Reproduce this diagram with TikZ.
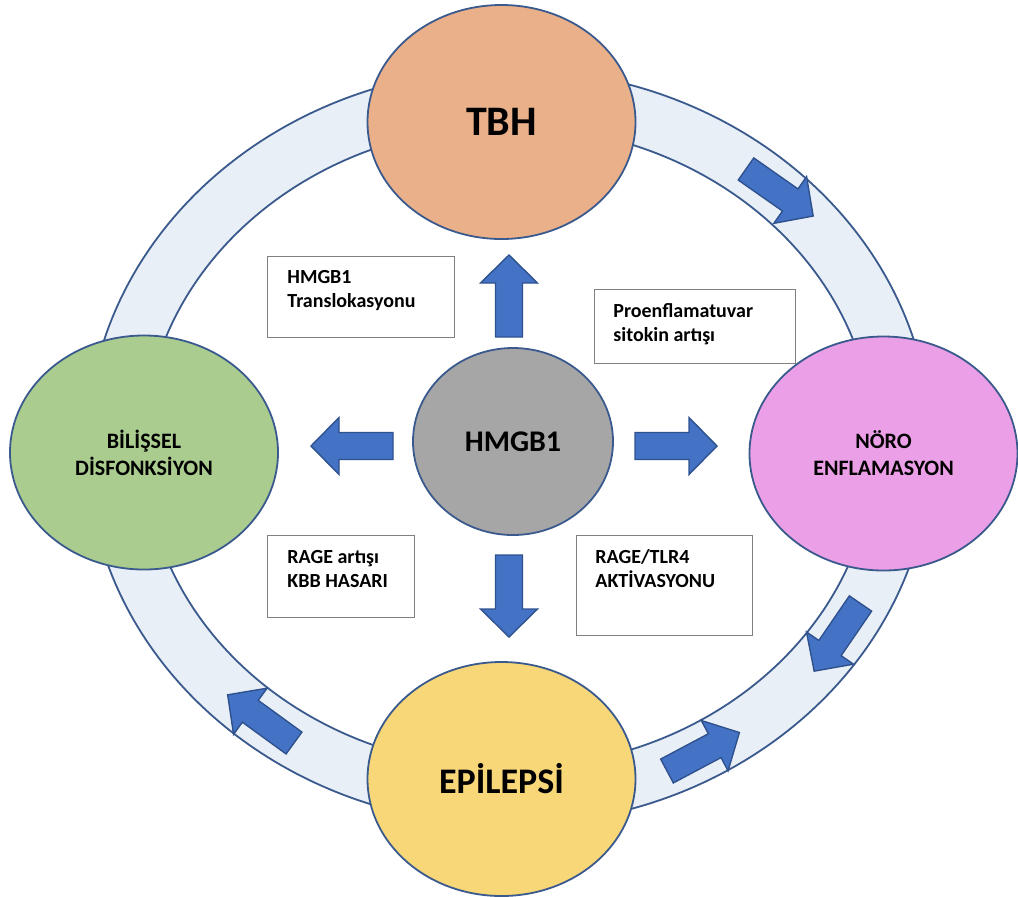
\documentclass[tikz,border=0pt]{standalone}
\usepackage{fontspec}
\setmainfont{Carlito}
\usetikzlibrary{shapes.geometric}
\definecolor{ringfill}{HTML}{E9EFF7}
\definecolor{ringline}{HTML}{3A5A8E}
\definecolor{tbhc}{HTML}{EAB089}
\definecolor{bilc}{HTML}{AACC8F}
\definecolor{noroc}{HTML}{EB9FE6}
\definecolor{epic}{HTML}{F8D779}
\definecolor{hmc}{HTML}{A6A6A6}
\definecolor{arrc}{HTML}{4472C4}
\definecolor{arrline}{HTML}{2F528F}
\definecolor{boxline}{HTML}{808080}
\newcommand\fstrut{\rule{0pt}{8pt}}
\begin{document}
\begin{tikzpicture}[x=0.5pt,y=-0.5pt,
  ringst/.style={fill=ringfill, draw=ringline, line width=0.9pt, even odd rule},
  disc/.style={ellipse, draw=ringline, line width=0.9pt, minimum width=134pt, minimum height=117pt, inner sep=0pt, align=center},
  hugetext/.style={font=\bfseries\fontsize{21}{25}\selectfont},
  midtext/.style={font=\bfseries\fontsize{18}{22}\selectfont},
  smalltext/.style={font=\bfseries\fontsize{11}{13.5}\selectfont},
  infobox/.style={rectangle, draw=boxline, line width=0.7pt, fill=white, anchor=north west, inner sep=0pt},
  boxtext/.style={anchor=north west, inner sep=0pt, align=left, font=\bfseries\fontsize{10}{12}\selectfont},
  blockarrow/.pic={\draw[fill=arrc, draw=arrline, line width=0.7pt, line join=miter]
     (0,-13.5) -- (54,-13.5) -- (54,-28.5) -- (82,0) -- (54,28.5) -- (54,13.5) -- (0,13.5) -- cycle;}
]
\fill[white] (0,0) rectangle (1018,896);
\useasboundingbox (0,0) rectangle (1018,896);

% ring
\path[ringst] (509,447) ellipse [x radius=422, y radius=378]
              (509,447) ellipse [x radius=365, y radius=321];

% ring arrows
\pic[rotate=-35] at (746,169) {blockarrow};
\pic[rotate=-124.4] at (860.5,603.5) {blockarrow};
\pic[rotate=28] at (667,771) {blockarrow};
\pic[rotate=144] at (294,743) {blockarrow};

% outer nodes
\node[disc, fill=tbhc, hugetext] (tbh) at (501.5,122) {TBH};
\node[disc, fill=bilc, smalltext] (bil) at (144,452.5) {BİLİŞSEL\\DİSFONKSİYON};
\node[disc, fill=noroc, smalltext] (noro) at (883.5,453.5) {NÖRO\\ENFLAMASYON};
\node[disc, fill=epic, midtext] (epi) at (501.5,779) {EPİLEPSİ};

% centre
\node[ellipse, draw=ringline, line width=0.9pt, fill=hmc, minimum width=100pt, minimum height=93.5pt, inner sep=0pt,
      font=\bfseries\fontsize{15}{18}\selectfont] (hm) at (513,441.5) {HMGB1};

% centre arrows
\pic[rotate=90] at (509,337) {blockarrow};
\pic[rotate=180] at (393,446) {blockarrow};
\pic[rotate=0] at (635,446) {blockarrow};
\pic[rotate=-90] at (509,555) {blockarrow};

% info boxes
\node[infobox, minimum width=93.5pt, minimum height=40.5pt] (b1) at (267,256) {};
\node[infobox, minimum width=100.5pt, minimum height=37pt] (b2) at (594,289) {};
\node[infobox, minimum width=73.5pt, minimum height=41pt] (b3) at (267,535) {};
\node[infobox, minimum width=88pt, minimum height=50pt] (b4) at (576,535) {};

\node[boxtext] (t1) at (287,267) {\fstrut HMGB1\\Translokasyonu};
\node[boxtext] (t2) at (613,301) {\fstrut Proenflamatuvar\\sitokin artışı};
\node[boxtext] (t3) at (287,547) {\fstrut RAGE artışı\\KBB HASARI};
\node[boxtext] (t4) at (595,547) {\fstrut RAGE/TLR4\\AKTİVASYONU};
\end{tikzpicture}
\end{document}
